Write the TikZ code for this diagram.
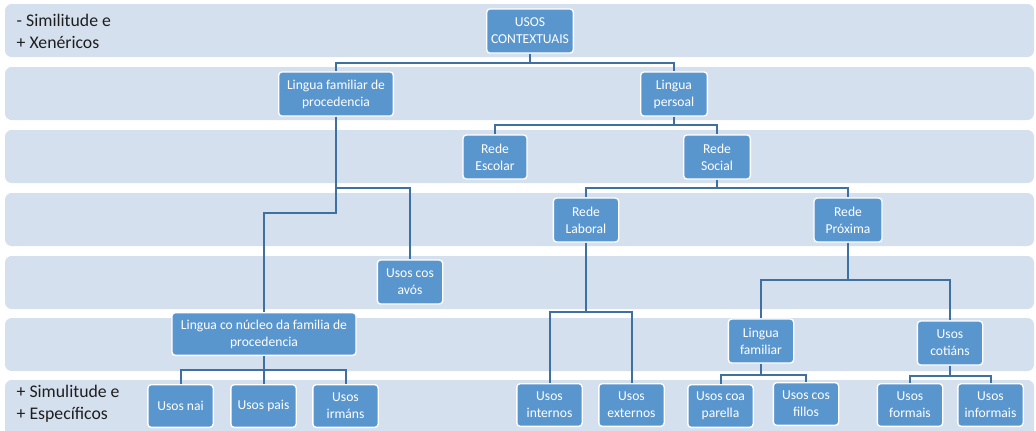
\documentclass[tikz,border=0pt]{standalone}
\usepackage{fontspec}
\setmainfont{Carlito}
\usepackage{tikz}
\usetikzlibrary{positioning,calc}
\usepackage{xcolor}
\definecolor{bandblue}{HTML}{D5E0EE}
\definecolor{boxblue}{HTML}{5A96CE}
\definecolor{linkblue}{HTML}{3F70A2}
\definecolor{textdark}{HTML}{1E1E1E}

\tikzset{
  usobox/.style={draw=white,line width=1pt,fill=boxblue,rounded corners=2.5pt,
    text=white,align=center,font=\fontsize{10.2}{12.8}\selectfont,
    minimum height=33pt,minimum width=49pt,inner sep=1.5pt},
  link/.style={linkblue,line width=1.5pt},
  nivel/.style={text=textdark,align=left,anchor=west,font=\fontsize{13.3}{16.5}\selectfont}
}

\begin{document}
\begin{tikzpicture}[x=0.75pt,y=-0.75pt]
        \clip(0,0)rectangle(1036,430);
        \fill[white](0,0)rectangle(1036,430);
        % Bandas
        \foreach \t in {4,67,130,193,256,318}{
          \fill[bandblue,rounded corners=5pt](5,\t)rectangle(1034,\t+53);}
        \fill[bandblue,rounded corners=5pt](5,380)rectangle(1034,445);
        % Niveis
        \node[nivel](xen) at (12,31){- Similitude e\\+ Xenéricos};
        \node[nivel](esp) at (12,404){+ Simulitude e\\+ Específicos};
        % Nodos
        \node[usobox,minimum width=65pt](uc) at (530,31){USOS\\CONTEXTUAIS};
        \node[usobox,minimum width=86pt](lfp) at (336,94){Lingua familiar de\\procedencia};
        \node[usobox,minimum width=50pt](lp) at (674,94){Lingua\\persoal};
        \node[usobox,minimum width=48pt](re) at (495,157){Rede\\Escolar};
        \node[usobox,minimum width=50pt](rs) at (717,157){Rede\\Social};
        \node[usobox](rl) at (586,220){Rede\\Laboral};
        \node[usobox,minimum width=51pt](rp) at (848,220){Rede\\Próxima};
        \node[usobox](uca) at (410,282){Usos cos\\avós};
        \node[usobox,minimum width=138pt,minimum height=32pt](lcn) at (264,334){Lingua co núcleo da familia de\\procedencia};
        \node[usobox](lf) at (761,341){Lingua\\familiar};
        \node[usobox](uct) at (950,343){Usos\\cotiáns};
        \node[usobox,minimum height=32pt](nai) at (180.5,406){Usos nai};
        \node[usobox,minimum height=32pt](pais) at (263.5,406){Usos pais};
        \node[usobox,minimum height=32pt](irm) at (345.5,406){Usos\\irmáns};
        \node[usobox,minimum height=32pt](uin) at (549.5,405){Usos\\internos};
        \node[usobox,minimum height=32pt](uex) at (631.5,405){Usos\\externos};
        \node[usobox,minimum height=32pt](par) at (720.5,406){Usos coa\\parella};
        \node[usobox,minimum height=32pt](fil) at (806,404){Usos cos\\fillos};
        \node[usobox,minimum height=32pt](ufo) at (910,405){Usos\\formais};
        \node[usobox,minimum height=32pt](uinf) at (990.5,405){Usos\\informais};
        % Conexions
        \draw[link](uc.south)--(uc.south|-0,63);
        \draw[link](lfp.north)--(lfp.north|-0,63)-|(lp.north);
        \draw[link](lfp.south)--(lfp.south|-0,213)-|(lcn.north);
        \draw[link](lfp.south|-0,188)-|(uca.north);
        \draw[link](lp.south)--(lp.south|-0,125);
        \draw[link](re.north)--(re.north|-0,125)-|(rs.north);
        \draw[link](rs.south)--(rs.south|-0,188);
        \draw[link](rl.north)--(rl.north|-0,188)-|(rp.north);
        \draw[link](rl.south)--(rl.south|-0,312);
        \draw[link](uin.north)--(uin.north|-0,312)-|(uex.north);
        \draw[link](rp.south)--(rp.south|-0,280);
        \draw[link](lf.north)--(lf.north|-0,280)-|(uct.north);
        \draw[link](lcn.south)--(lcn.south|-0,370);
        \draw[link](nai.north)--(nai.north|-0,370)-|(irm.north);
        \draw[link](pais.north)--(pais.north|-0,370);
        \draw[link](lf.south)--(lf.south|-0,375);
        \draw[link](par.north)--(par.north|-0,375)-|(fil.north);
        \draw[link](uct.south)--(uct.south|-0,376);
        \draw[link](ufo.north)--(ufo.north|-0,376)-|(uinf.north);
      \end{tikzpicture}
\end{document}
